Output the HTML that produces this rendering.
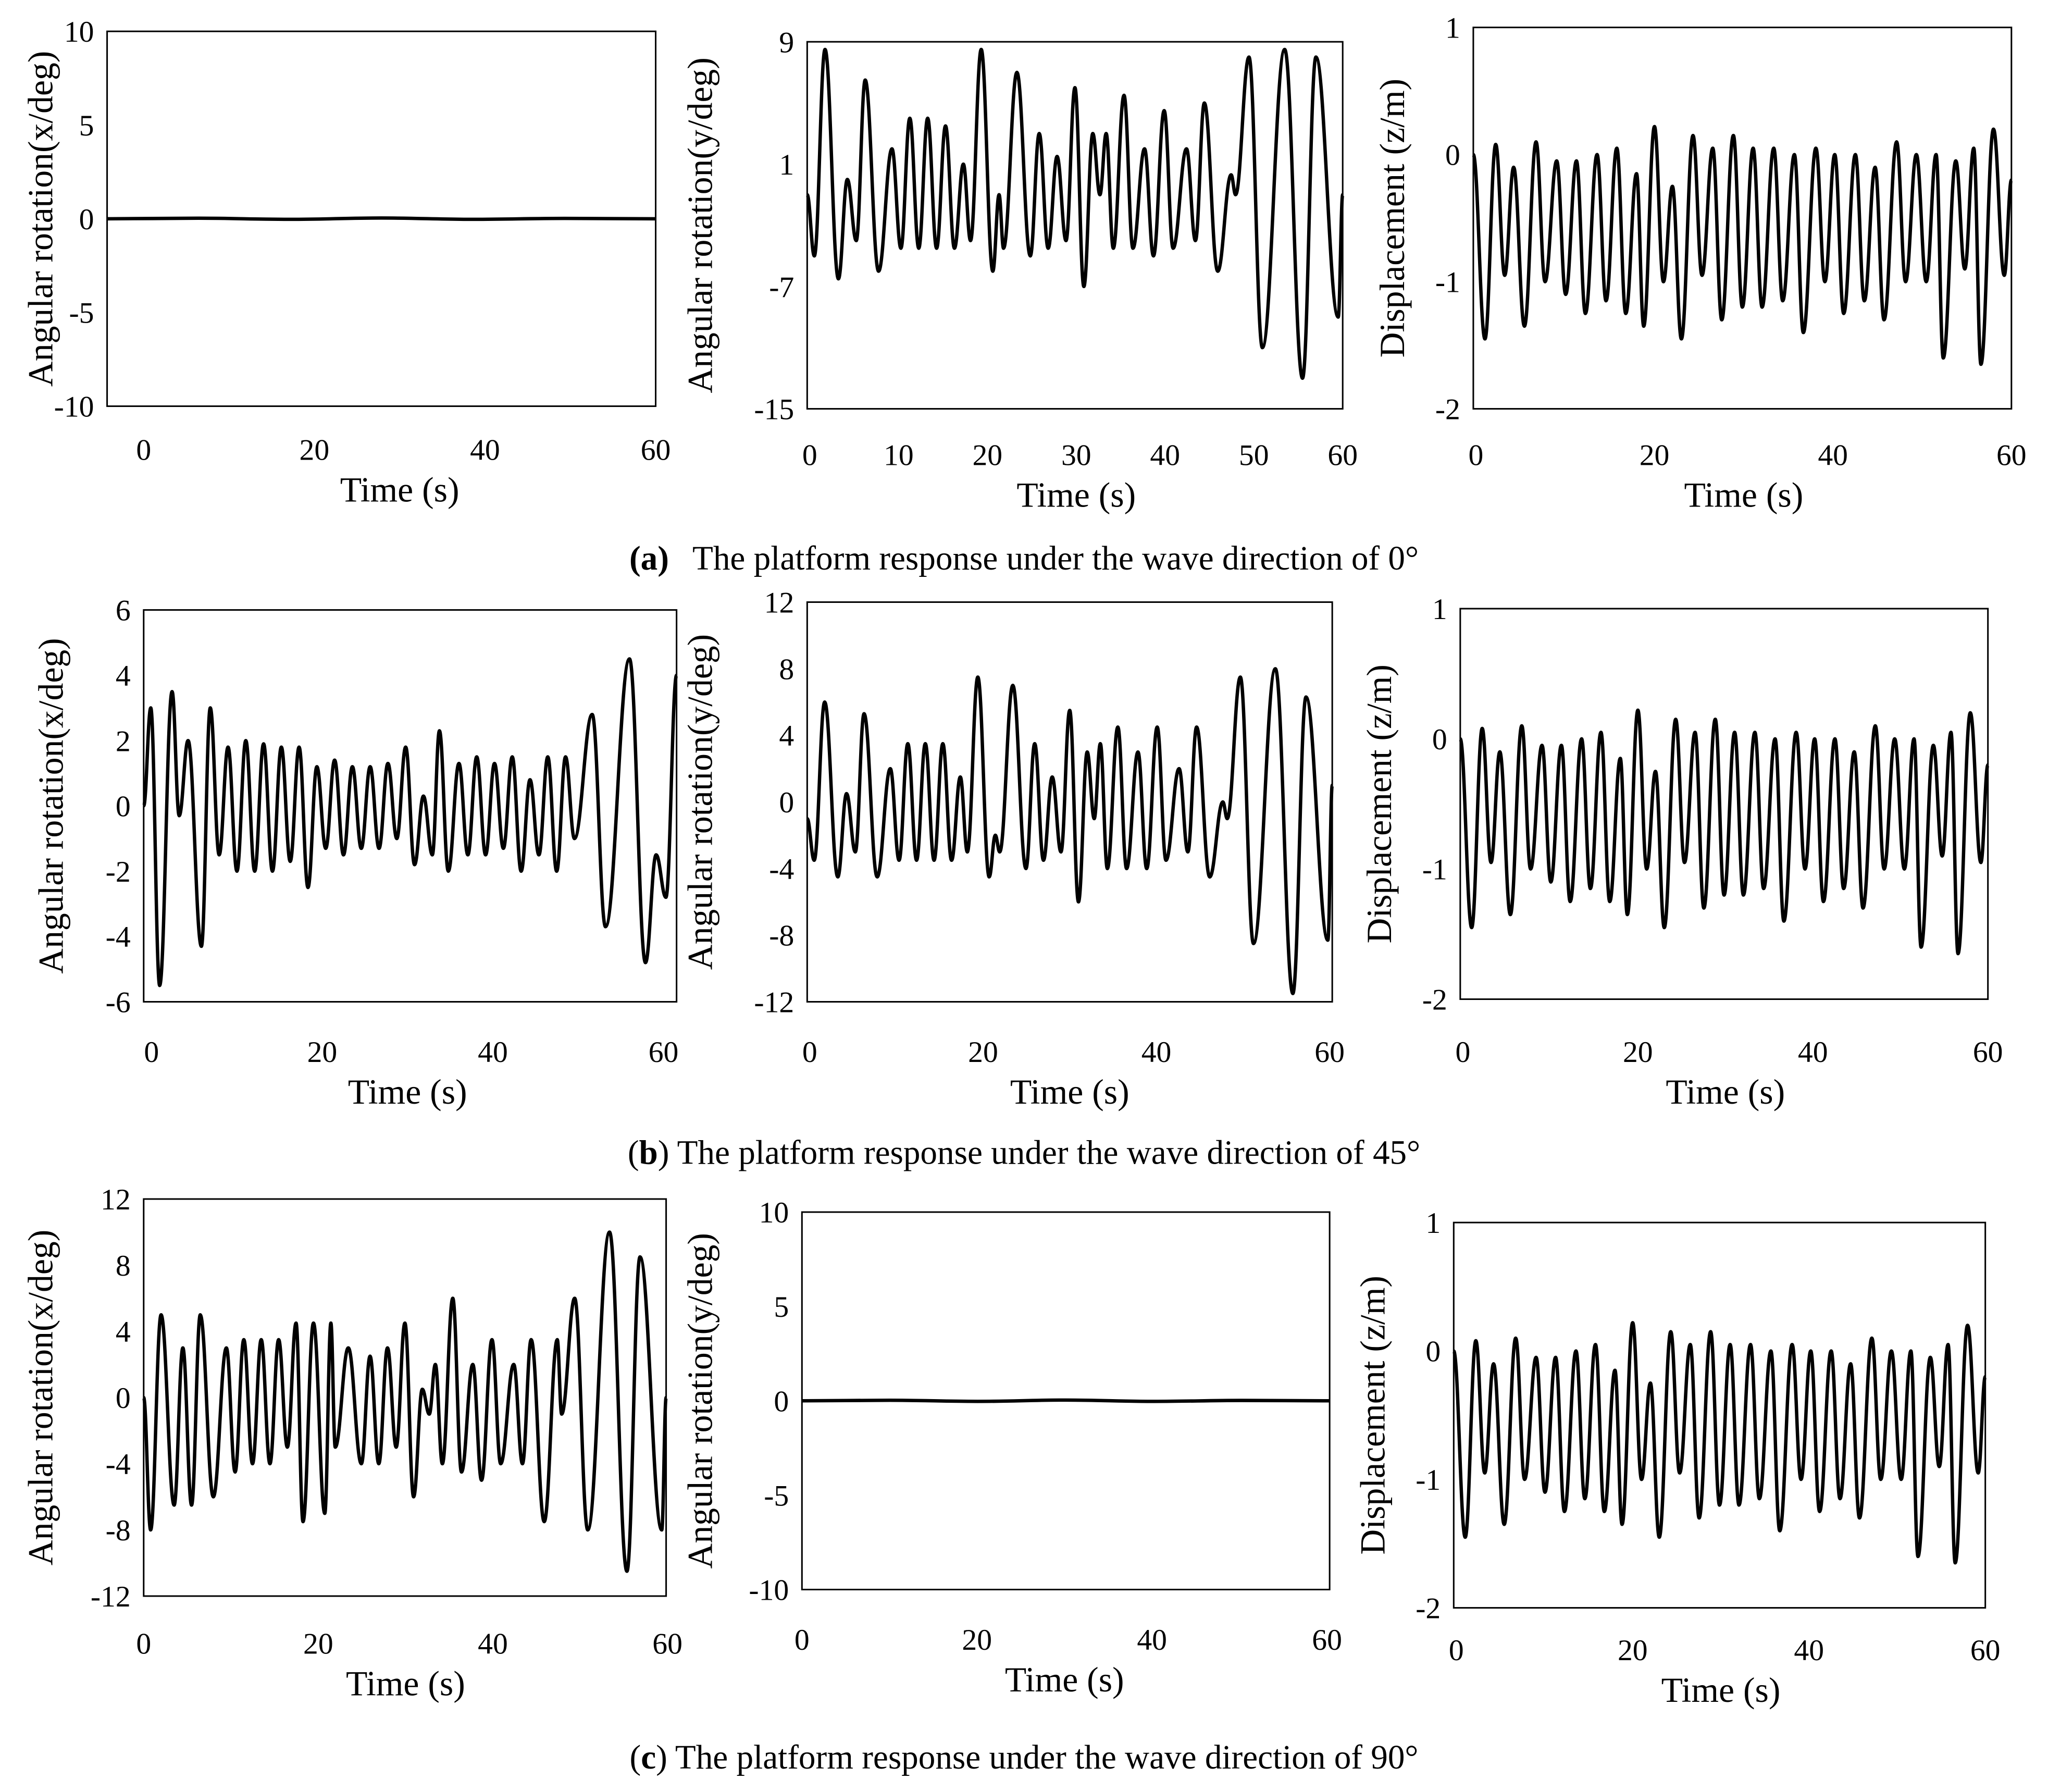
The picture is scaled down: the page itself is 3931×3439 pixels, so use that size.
<!DOCTYPE html>
<html><head><meta charset="utf-8"><style>
html,body{margin:0;padding:0;background:#fff;}
svg{display:block;}
text{font-family:"Liberation Serif",serif;fill:#000;}
</style></head><body>
<svg id="fig" width="3931" height="3439" viewBox="0 0 1568 1372" preserveAspectRatio="none" xmlns="http://www.w3.org/2000/svg">
<rect x="0" y="0" width="1568" height="1372" fill="#fff"/>
<text x="784" y="436" text-anchor="middle" font-size="26"><tspan font-weight="bold">(a)</tspan><tspan dx="18">The platform response under the wave direction of 0°</tspan></text>
<text x="784" y="891" text-anchor="middle" font-size="26">(<tspan font-weight="bold">b</tspan>) The platform response under the wave direction of 45°</text>
<text x="784" y="1354" text-anchor="middle" font-size="26">(<tspan font-weight="bold">c</tspan>) The platform response under the wave direction of 90°</text>
</svg>
<script>
// ---- data ----
const pitchTimes = [0,0.8,2,3.5,4.5,5.5,6.5,8,9.5,10.5,11.5,12.5,13.5,14.5,15.5,16.5,17.5,18.3,19.5,20.8,21.5,22,23.5,25,26,27,28,29,30,31,32,32.8,33.5,34.3,35.5,36.5,37.8,38.8,40,41,42.5,43.5,44.5,46,47.5,48,49.5,51,53.5,55.5,57,59.5,60];
const pitch0Values = [-1,-5,8.5,-6.5,0,-4,6.5,-6,2,-4.5,4,-4.5,4,-4.5,3.5,-4.5,1,-4,8.5,-6,-1,-4.5,7,-5,3,-4.5,1.5,-4,6,-7,3,-1,3,-4.5,5.5,-4.5,2,-5,4.5,-4.5,2,-4,5,-6,0.3,-1,8,-11,8.5,-13,8,-9,-1];
const pitch45Values = [-1,-3.5,6,-4.5,0.5,-3,5.3,-4.5,2,-3.5,3.5,-3.5,3.5,-3.5,3.5,-3.5,1.5,-3,7.5,-4.5,-2,-3,7,-4,3.5,-3.5,1.5,-3,5.5,-6,3,-1,3.5,-4,4.5,-4,3,-4,4.5,-3.5,2,-3,4.5,-4.5,0,-1,7.5,-8.5,8,-11.5,6.3,-8.3,1];
const roll90Values = [0,-8,5,-6.5,3,-6.5,5,-6,3,-4.5,3.5,-4,3.5,-4,3.5,-3,4.5,-7.5,4.5,-7,4.5,-3,3,-4,2.5,-4,3,-3,4.5,-6,0.5,-1,2,-4,6,-4.5,2,-5,3.5,-4,2,-4,3.5,-7.5,3.5,-1,6,-8,10,-10.5,8.5,-8,0];
const roll45Times = [0,0.8,1.8,3.2,4,5,6.5,7.5,8.5,9.5,10.5,11.5,12.5,13.5,14.5,15.5,16.5,17.5,18.5,19.5,20.5,21.5,22.5,23.5,24.5,25.5,26.5,27.5,28.5,29.5,30.5,31.5,32.5,33.3,34.3,35.5,36.5,37.5,38.5,39.5,40.5,41.5,42.5,43.5,44.5,45.5,46.5,47.5,48.5,50.5,52,54.7,56.5,57.7,58.8,60];
const roll45Values = [0,3,-5.5,3.5,-0.3,2,-4.3,3,-1.5,1.8,-2,2,-2,1.9,-2,1.8,-1.7,1.8,-2.5,1.2,-1.3,1.4,-1.5,1.2,-1.3,1.2,-1.3,1.3,-1,1.8,-1.8,0.3,-1.5,2.3,-2,1.3,-1.5,1.5,-1.5,1.3,-1.3,1.5,-2,0.8,-1.5,1.5,-2,1.5,-1,2.8,-3.7,4.5,-4.8,-1.5,-2.8,4];
const heaveTimes = [0,1.3,2.5,3.5,4.5,5.7,7,8,9.3,10.3,11.5,12.5,13.8,14.8,16,17,18.2,19,20.2,21.2,22.2,23.2,24.5,25.5,26.7,27.7,29,30,31.2,32.2,33.5,34.5,35.8,36.8,38.2,39.2,40.3,41.3,42.6,43.6,44.8,45.8,47.2,48.2,49.4,50.5,51.6,52.4,53.8,54.8,55.8,56.6,58,59.2,60];
const heaveValues = [0,-1.45,0.08,-0.95,-0.1,-1.35,0.1,-1.0,-0.05,-1.1,-0.05,-1.25,0.0,-1.15,0.05,-1.25,-0.15,-1.35,0.22,-1.0,-0.25,-1.45,0.15,-0.95,0.05,-1.3,0.15,-1.2,0.05,-1.2,0.05,-1.15,0.0,-1.4,0.05,-1.0,0.0,-1.25,0.0,-1.15,-0.1,-1.3,0.1,-1.0,0.0,-1.0,0.0,-1.6,-0.05,-0.9,0.05,-1.65,0.2,-0.95,-0.2];
const flatTimes = [0,10,20,30,40,50,60];
const flatValues = [0,0.03,-0.03,0.04,-0.03,0.02,0];
const ticks10 = [10,5,0,-5,-10];
const ticksPitch0 = [9,1,-7,-15];
const ticksHeave = [1,0,-1,-2];
const ticks6 = [6,4,2,0,-2,-4,-6];
const ticks12 = [12,8,4,0,-4,-8,-12];
const xTicks3 = [0,20,40,60];
const xTicks10 = [0,10,20,30,40,50,60];

const NS = "http://www.w3.org/2000/svg";
const svg = document.getElementById('fig');
function mk(tag, attrs, parent){ const e=document.createElementNS(NS,tag); for(const k in attrs) e.setAttribute(k,attrs[k]); (parent||svg).appendChild(e); return e; }

function panel(p){
  const g = mk('g',{});
  
  
  const ymax=p.yTicks[0], ymin=p.yTicks[p.yTicks.length-1];
  const sx = t => p.x0 + (t-0)/(60-0)*(p.x1-p.x0);
  const sy = v => p.y1 - (v-ymin)/(ymax-ymin)*(p.y1-p.y0);
  const box = mk('rect',{x:p.x0,y:p.y0,width:p.x1-p.x0,height:p.y1-p.y0,fill:'none',stroke:'#000','stroke-width':1.2},g);
  
  
  p.yTicks.forEach(v=>{
    const t = mk('text',{x:p.x0-10,y:sy(v)+8,'text-anchor':'end','font-size':23},g);
    t.textContent = v;
    
    
  });
  p.xTicks.forEach(v=>{
    const xx = p.lx0 + v/60*(p.lx1-p.lx0);
    const t = mk('text',{x:xx,y:p.ly,'text-anchor':'middle','font-size':23},g);
    t.textContent = v;
    
    
  });
  const xt = mk('text',{x:(p.lx0+p.lx1)/2,y:p.ly+32,'text-anchor':'middle','font-size':27},g);
  xt.textContent = 'Time (s)';
  
  
  const yc=(p.y0+p.y1)/2;
  const yt = mk('text',{x:p.tx,y:yc,'text-anchor':'middle','font-size':27,transform:`rotate(-90 ${p.tx} ${yc})`},g);
  yt.textContent = p.ytitle;
  
  
  let d='M'+sx(p.times[0]).toFixed(2)+' '+sy(p.values[0]).toFixed(2);
  for(let i=1;i<p.times.length;i++){
    const xa=sx(p.times[i-1]), ya=sy(p.values[i-1]), xb=sx(p.times[i]), yb=sy(p.values[i]);
    const dx=xb-xa;
    d+=` C${(xa+dx*0.4).toFixed(2)} ${ya.toFixed(2)} ${(xb-dx*0.4).toFixed(2)} ${yb.toFixed(2)} ${xb.toFixed(2)} ${yb.toFixed(2)}`;
  }
  const path = mk('path',{d:d,fill:'none',stroke:'#000','stroke-width':2.6,'stroke-linejoin':'round'},g);
  
  
}

panel({name:'chart-a-roll',x0:82,x1:502,y0:24,y1:311,yTicks:ticks10,xTicks:xTicks3,lx0:110,lx1:502,ly:352,tx:40,ytitle:'Angular rotation(x/deg)',times:flatTimes,values:flatValues});
panel({name:'chart-a-pitch',x0:618,x1:1028,y0:32,y1:313,yTicks:ticksPitch0,xTicks:xTicks10,lx0:620,lx1:1028,ly:356,tx:545,ytitle:'Angular rotation(y/deg)',times:pitchTimes,values:pitch0Values});
panel({name:'chart-a-heave',x0:1128,x1:1540,y0:21,y1:313,yTicks:ticksHeave,xTicks:xTicks3,lx0:1130,lx1:1540,ly:356,tx:1075,ytitle:'Displacement  (z/m)',times:heaveTimes,values:heaveValues});

panel({name:'chart-b-roll',x0:110,x1:518,y0:467,y1:767,yTicks:ticks6,xTicks:xTicks3,lx0:116,lx1:508,ly:813,tx:48,ytitle:'Angular rotation(x/deg)',times:roll45Times,values:roll45Values});
panel({name:'chart-b-pitch',x0:618,x1:1020,y0:461,y1:767,yTicks:ticks12,xTicks:xTicks3,lx0:620,lx1:1018,ly:813,tx:545,ytitle:'Angular rotation(y/deg)',times:pitchTimes,values:pitch45Values});
panel({name:'chart-b-heave',x0:1118,x1:1522,y0:466,y1:765,yTicks:ticksHeave,xTicks:xTicks3,lx0:1120,lx1:1522,ly:813,tx:1065,ytitle:'Displacement  (z/m)',times:heaveTimes,values:heaveValues});

panel({name:'chart-c-roll',x0:110,x1:510,y0:918,y1:1222,yTicks:ticks12,xTicks:xTicks3,lx0:110,lx1:511,ly:1266,tx:40,ytitle:'Angular rotation(x/deg)',times:pitchTimes,values:roll90Values});
panel({name:'chart-c-pitch',x0:614,x1:1018,y0:928,y1:1217,yTicks:ticks10,xTicks:xTicks3,lx0:614,lx1:1016,ly:1263,tx:545,ytitle:'Angular rotation(y/deg)',times:flatTimes,values:flatValues});
panel({name:'chart-c-heave',x0:1113,x1:1520,y0:936,y1:1231,yTicks:ticksHeave,xTicks:xTicks3,lx0:1115,lx1:1520,ly:1271,tx:1060,ytitle:'Displacement  (z/m)',times:heaveTimes,values:heaveValues});
</script>
</body></html>
